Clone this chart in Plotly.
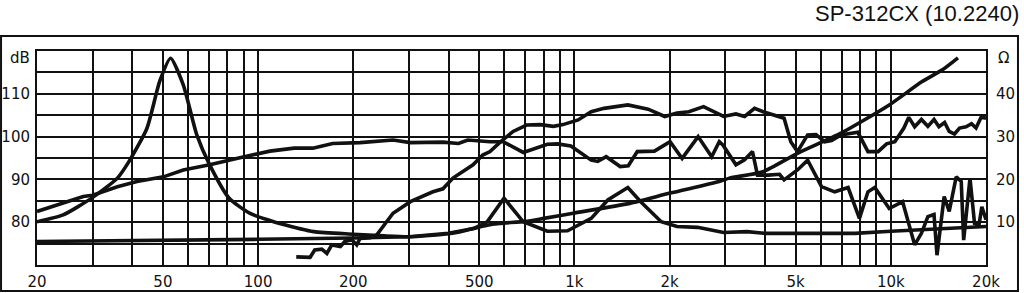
import plotly.graph_objects as go

# ---- data ----
woofer_spl_f = [20, 24.2, 28, 30, 35.9, 41.4, 50.2, 58, 70.3, 85.5, 101, 109, 130, 149, 172, 210, 267, 303,
                384, 430, 460, 541, 595, 689, 821, 884, 974, 1130, 1185, 1260, 1395, 1480, 1580, 1790,
                2006, 2190, 2460, 2715, 2870, 2950, 3240, 3450, 3655, 3790, 4100, 4450, 4600, 5070, 5460,
                6040, 6650, 7330, 7960, 8470, 8900, 9890, 10900, 11900, 12500, 13100, 13700, 14000,
                14750, 15300, 16100, 16700, 17000, 17800, 18400, 19000, 19400, 20000]
woofer_spl_db = [82.5, 84.4, 86.0, 86.3, 88.3, 89.5, 90.6, 92.2, 93.4, 94.9, 96.1, 96.6, 97.3, 97.3, 98.4, 98.6,
                 99.2, 98.6, 98.7, 98.4, 99.2, 98.8, 98.8, 96.3, 98.2, 98.3, 97.8, 94.5, 94.2, 95.3, 93.0,
                 93.2, 96.5, 96.6, 98.8, 94.9, 100.0, 95.3, 98.8, 98.0, 93.4, 94.6, 96.5, 91.0, 91.0, 91.2,
                 89.9, 92.2, 94.5, 88.3, 87.1, 88.1, 80.9, 87.1, 88.1, 83.2, 84.8, 74.7, 77.4, 81.3, 81.8,
                 72.3, 86.0, 82.5, 90.6, 89.5, 75.8, 90.3, 79.7, 79.3, 83.6, 80.6]

tweeter_spl_f = [132, 146, 151, 159, 165, 171, 182, 188, 198, 205, 210, 226, 237, 267, 303, 357, 384, 413,
                 478, 513, 541, 580, 640, 706, 780, 858, 920, 1027, 1130, 1240, 1475, 1710, 1930, 2110,
                 2300, 2560, 2960, 3240, 3450, 3710, 3950, 4370, 4600, 4830, 5070, 5460, 5800, 6180, 6500,
                 6960, 7870, 8470, 9120, 9700, 10300, 11000, 11400, 11900, 12500, 13100, 13700, 14200,
                 14800, 15300, 15900, 16500, 17300, 18000, 18600, 19300, 20000]
tweeter_spl_db = [71.9, 71.8, 73.5, 73.7, 72.7, 74.7, 74.3, 75.5, 75.9, 74.7, 76.2, 76.4, 77.0, 82.1, 84.8,
                  87.1, 87.8, 90.3, 93.4, 95.7, 96.5, 98.6, 101.2, 102.7, 102.8, 102.4, 102.8, 103.9, 105.8,
                  106.6, 107.4, 106.4, 104.7, 105.5, 105.8, 107.0, 104.7, 105.3, 104.7, 106.6, 105.8, 104.7,
                  104.3, 98.8, 96.5, 100.4, 100.5, 98.8, 99.1, 100.4, 101.0, 96.5, 96.5, 98.3, 98.8, 102.0,
                  104.5, 102.3, 104.0, 102.4, 104.0, 102.3, 103.3, 101.2, 100.6, 102.0, 102.3, 103.0, 102.0,
                  104.5, 104.3]

woofer_imp_f = [20, 24.2, 30, 35.9, 39, 44.5, 48.9, 52.9, 58, 64, 70.3, 81, 94, 109, 117, 150, 200, 250, 300,
                400, 437, 530, 580, 700, 800, 991, 1495, 2006, 2870, 3090, 3945, 5071, 6960, 9890, 12530,
                14560, 16310]
woofer_imp_ohm = [10.1, 11.7, 15.8, 20.3, 24.1, 31.9, 43.0, 48.3, 42.1, 30.4, 23.4, 15.6, 12.1, 10.4, 9.7,
                  7.8, 7.2, 6.8, 6.6, 7.3, 7.8, 9.3, 9.7, 10.2, 10.9, 12.1, 14.4, 16.8, 19.5, 20.3, 21.8,
                  26.1, 30.8, 37.4, 42.8, 45.6, 48.4]

tweeter_imp_f = [20, 50, 100, 200, 300, 400, 480, 530, 599, 689, 821, 951, 1130, 1275, 1475, 1620, 1880,
                 2110, 2450, 2960, 3510, 4000, 7700, 10000, 16500, 20000]
tweeter_imp_ohm = [5.5, 5.7, 6.0, 6.3, 6.6, 7.4, 8.5, 10.1, 15.6, 10.1, 7.9, 8.0, 10.9, 15.2, 18.1, 14.8,
                   10.1, 9.0, 8.8, 7.6, 7.8, 7.4, 7.4, 7.9, 8.6, 9.0]

grid_freqs = [20, 30, 40, 50, 60, 70, 80, 90, 100, 200, 300, 400, 500, 600, 700, 800, 900, 1000,
              2000, 3000, 4000, 5000, 6000, 7000, 8000, 9000, 10000, 20000]
x_labels = {20: "20", 50: "50", 100: "100", 200: "200", 500: "500", 1000: "1k", 2000: "2k",
            5000: "5k", 10000: "10k", 20000: "20k"}
db_grid = [70, 75, 80, 85, 90, 95, 100, 105, 110, 115, 120]
db_labels = {80: "80", 90: "90", 100: "100", 110: "110"}
ohm_ticks = [10, 20, 30, 40]
title_text = "SP-312CX (10.2240)"

# ---- figure ----
LINE = dict(color="#111111", width=3.6)
fig = go.Figure()
fig.add_trace(go.Scatter(x=woofer_spl_f, y=woofer_spl_db, mode="lines", line=LINE, yaxis="y"))
fig.add_trace(go.Scatter(x=tweeter_spl_f, y=tweeter_spl_db, mode="lines", line=LINE, yaxis="y"))
fig.add_trace(go.Scatter(x=woofer_imp_f, y=woofer_imp_ohm, mode="lines",
                         line=dict(color="#111111", width=3.6, shape="spline", smoothing=0.6), yaxis="y2"))
fig.add_trace(go.Scatter(x=tweeter_imp_f, y=tweeter_imp_ohm, mode="lines",
                         line=dict(color="#111111", width=3.6), yaxis="y2"))

font = dict(family="DejaVu Sans, Verdana", size=15, color="#111111")

fig.update_layout(
    width=1024, height=293,
    margin=dict(l=37, r=38, t=51, b=28, pad=0, autoexpand=False),
    paper_bgcolor="white", plot_bgcolor="white",
    showlegend=False,
    font=font,
    xaxis=dict(type="log", range=[1.30103, 4.30103], automargin=False,
               tickvals=grid_freqs, ticktext=[x_labels.get(f, "") for f in grid_freqs],
               showgrid=True, gridcolor="#111111", gridwidth=2,
               showline=True, linecolor="#111111", linewidth=2, mirror=True,
               ticks="", zeroline=False, tickfont=font, ticklabelstandoff=2),
    yaxis=dict(range=[70, 120], automargin=False,
               tickvals=db_grid, ticktext=[db_labels.get(v, "") for v in db_grid],
               showgrid=True, gridcolor="#111111", gridwidth=2,
               showline=True, linecolor="#111111", linewidth=2, mirror=True,
               ticks="", zeroline=False, tickfont=font, ticklabelstandoff=2),
    yaxis2=dict(range=[0, 50], overlaying="y", side="right", tickvals=ohm_ticks, automargin=False,
                ticktext=[str(v) for v in ohm_ticks], showgrid=False, zeroline=False,
                ticks="", tickfont=font, ticklabelstandoff=9),
)

fig.add_annotation(text="dB", xref="paper", yref="paper", x=-0.0184, y=0.967,
                   showarrow=False, font=font, xanchor="center", yanchor="middle")
fig.add_annotation(text="Ω", xref="paper", yref="paper", x=1.018, y=0.967,
                   showarrow=False, font=font, xanchor="center", yanchor="middle")
fig.add_annotation(text=title_text, xref="paper", yref="paper", x=1.0358, y=1.236,
                   showarrow=False, xanchor="right", yanchor="top", borderpad=0,
                   font=dict(family="Liberation Sans, Arial", size=22, color="#111111"))

# outer frame
fig.add_shape(type="rect", xref="paper", yref="paper", x0=-0.0379, x1=1.0337, y0=-0.1215, y1=1.0701,
              line=dict(color="#111111", width=2), layer="below")

fig.write_html("out.html")
